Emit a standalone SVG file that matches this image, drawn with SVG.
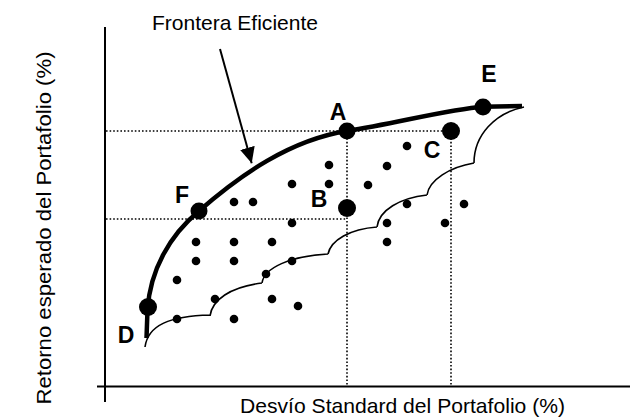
<svg xmlns="http://www.w3.org/2000/svg" width="631" height="418" viewBox="0 0 631 418">
<style>
.axis{stroke:#000;stroke-width:2;fill:none}
.dot{stroke:#000;stroke-width:1.6;stroke-dasharray:1.6 2;fill:none}
.front{stroke:#000;stroke-width:4.5;fill:none;stroke-linecap:butt}
.feas{stroke:#000;stroke-width:1.6;fill:none}
.pt{fill:#000}
.lbl{font-family:"Liberation Sans",Arial,sans-serif;font-weight:bold;font-size:23px;fill:#000;text-anchor:middle}
.txt{font-family:"Liberation Sans",Arial,sans-serif;font-size:21px;fill:#000}
</style>
<defs>
<marker id="ah" markerWidth="16" markerHeight="15" refX="16" refY="7.5" orient="auto" markerUnits="userSpaceOnUse">
<path d="M0,0 L16,7.5 L0,15 Z" fill="#000"/>
</marker>
</defs>
<g id="axes">
<line class="axis" x1="105" y1="27" x2="105" y2="402"/>
<line class="axis" x1="97" y1="386.5" x2="630" y2="386.5"/>
</g>
<g id="guides">
<line class="dot" x1="106" y1="131" x2="451" y2="131"/>
<line class="dot" x1="106" y1="219" x2="347" y2="219"/>
<line class="dot" x1="347" y1="131" x2="347" y2="386"/>
<line class="dot" x1="451" y1="131" x2="451" y2="386"/>
</g>
<g id="feasible-set">
<path class="feas" d="M145,347 C148,325 170,316 210,315 M210,316 C212,300 230,287 262,283 M262,283 C264,268 290,256 328,254 M328,254 C331,240 350,229 377,227 M377,227 C379,210 400,198 427,195 M427,195 C429,180 450,167 474,163 M474,163 C474,135 495,113 524,107"/>
</g>
<g id="frontier">
<path class="front" d="M146.5,338 L147.5,310 C150,270 170,235 199,211 C240,175 290,140 347,131 C397,123 450,109 483,106.7 L522,106"/>
</g>
<g id="portfolios">
<circle class="pt" cx="177" cy="280" r="4.3"/>
<circle class="pt" cx="177" cy="319" r="4.3"/>
<circle class="pt" cx="196" cy="242" r="4.3"/>
<circle class="pt" cx="196" cy="261" r="4.3"/>
<circle class="pt" cx="215" cy="299" r="4.3"/>
<circle class="pt" cx="234" cy="202" r="4.3"/>
<circle class="pt" cx="234" cy="242" r="4.3"/>
<circle class="pt" cx="234" cy="261" r="4.3"/>
<circle class="pt" cx="234" cy="319" r="4.3"/>
<circle class="pt" cx="253" cy="202" r="4.3"/>
<circle class="pt" cx="266" cy="274" r="4.3"/>
<circle class="pt" cx="272" cy="242" r="4.3"/>
<circle class="pt" cx="272" cy="299" r="4.3"/>
<circle class="pt" cx="298" cy="306" r="4.3"/>
<circle class="pt" cx="292" cy="223" r="4.3"/>
<circle class="pt" cx="292" cy="261" r="4.3"/>
<circle class="pt" cx="292" cy="184" r="4.3"/>
<circle class="pt" cx="329" cy="165" r="4.3"/>
<circle class="pt" cx="329" cy="184" r="4.3"/>
<circle class="pt" cx="368" cy="185" r="4.3"/>
<circle class="pt" cx="387" cy="166" r="4.3"/>
<circle class="pt" cx="407" cy="146" r="4.3"/>
<circle class="pt" cx="407" cy="204" r="4.3"/>
<circle class="pt" cx="387" cy="223" r="4.3"/>
<circle class="pt" cx="387" cy="242" r="4.3"/>
<circle class="pt" cx="445" cy="223" r="4.3"/>
<circle class="pt" cx="464" cy="204" r="4.3"/>
</g>
<g id="A"><circle class="pt" cx="347" cy="131" r="8.5"/><text class="lbl" x="338" y="120">A</text></g>
<g id="E"><circle class="pt" cx="483" cy="107" r="8.5"/><text class="lbl" x="489" y="82">E</text></g>
<g id="C"><circle class="pt" cx="451" cy="131" r="9"/><text class="lbl" x="432" y="158">C</text></g>
<g id="B"><circle class="pt" cx="347" cy="208" r="9"/><text class="lbl" x="319" y="207">B</text></g>
<g id="F"><circle class="pt" cx="199" cy="211" r="8.5"/><text class="lbl" x="182" y="203">F</text></g>
<g id="D"><circle class="pt" cx="148" cy="307" r="9"/><text class="lbl" x="126" y="343">D</text></g>
<g id="connectors">
<line x1="220" y1="49" x2="251.7" y2="163.3" stroke="#000" stroke-width="2" marker-end="url(#ah)"/>
</g>
<g id="titles">
<text class="txt" x="152" y="30" textLength="166" lengthAdjust="spacingAndGlyphs">Frontera Eficiente</text>
<text class="txt" x="240" y="413" textLength="325" lengthAdjust="spacingAndGlyphs">Desvío Standard del Portafolio (%)</text>
<text class="txt" transform="translate(51,228) rotate(-90)" text-anchor="middle" textLength="353" lengthAdjust="spacingAndGlyphs">Retorno esperado del Portafolio (%)</text>
</g>
</svg>
